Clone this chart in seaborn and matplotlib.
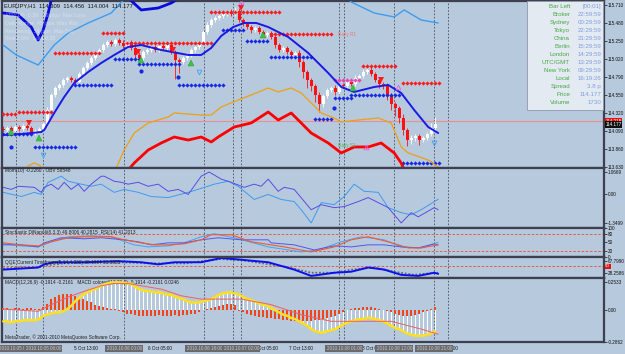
import matplotlib
matplotlib.use("Agg")
import matplotlib.pyplot as plt
from matplotlib.patches import Rectangle
import seaborn as sns
import numpy as np

W, H = 625, 354
BG = "#B6C9DD"
FRAME = "#3E4050"

# ---------- EURJPY H1, one value per bar ----------
close = [
    114.105, 114.131, 114.092, 114.143, 114.118, 114.156, 114.131, 114.066, 114.092, 114.118,
    114.182, 114.362, 114.554, 114.644, 114.683, 114.747, 114.773, 114.747, 114.721, 114.824,
    114.901, 114.965, 115.029, 115.081, 115.132, 115.196, 115.235, 115.209, 115.260, 115.222,
    115.183, 115.235, 115.158, 115.068, 115.029, 115.106, 115.132, 115.171, 115.132, 115.183,
    115.158, 115.196, 115.106, 115.004, 114.978, 115.029, 115.068, 115.132, 115.171, 115.209,
    115.363, 115.453, 115.517, 115.543, 115.569, 115.594, 115.620, 115.594, 115.633, 115.517,
    115.466, 115.427, 115.389, 115.414, 115.363, 115.325, 115.350, 115.299, 115.196, 115.132,
    115.158, 115.106, 115.068, 115.094, 114.978, 114.850, 114.747, 114.670, 114.554, 114.439,
    114.541, 114.618, 114.644, 114.593, 114.683, 114.670, 114.721, 114.696, 114.773, 114.798,
    114.850, 114.875, 114.824, 114.747, 114.696, 114.670, 114.554, 114.439, 114.387, 114.259,
    114.105, 113.976, 114.002, 114.028, 113.976, 114.002, 114.054, 114.131, 114.177]
first_open = 114.120
wick_up = [3, 2, 3, 2, 3, 2, 2, 3, 2, 3, 3, 4, 3, 3, 2, 3, 2, 3, 3, 2,
           3, 2, 3, 3, 2, 3, 2, 3, 2, 3, 4, 3, 2, 3, 4, 3, 2, 3, 2, 3,
           2, 3, 4, 2, 3, 2, 3, 2, 3, 3, 3, 4, 3, 2, 3, 2, 3, 4, 5, 4,
           3, 2, 3, 2, 3, 3, 2, 3, 4, 3, 2, 3, 3, 2, 4, 3, 2, 3, 2, 4,
           3, 3, 2, 4, 3, 2, 3, 3, 4, 3, 4, 3, 5, 3, 2, 3, 4, 3, 2, 3,
           5, 3, 4, 3, 3, 2, 3, 6, 9]
wick_dn = [3, 2, 4, 2, 3, 2, 3, 3, 2, 3, 2, 3, 2, 3, 3, 2, 3, 2, 3, 2,
           2, 3, 2, 3, 2, 2, 3, 2, 3, 2, 3, 2, 3, 4, 3, 2, 3, 2, 3, 2,
           3, 2, 3, 24, 14, 3, 2, 3, 2, 3, 2, 3, 2, 3, 2, 3, 2, 2, 3, 3,
           2, 3, 4, 3, 2, 3, 3, 2, 4, 3, 2, 3, 4, 3, 6, 8, 10, 7, 9, 10,
           4, 3, 3, 4, 2, 3, 2, 3, 2, 3, 2, 3, 2, 3, 5, 4, 6, 8, 10, 7,
           6, 8, 5, 4, 6, 3, 3, 2, 2]

# ---------- price-chart indicators (bar position, price) ----------
ma_x = [0, 4.5, 9.5, 10.25, 12.75, 15.25, 17.75, 21.25, 24.5, 27.75, 31.25, 34.5, 39.5, 46.25,
        49.5, 52, 54.5, 57.5, 60.25, 63.25, 66.25, 71.25, 76.25, 81.25, 84.5, 87.75, 92.75,
        96.25, 99.5, 102.75, 106.25, 108.75]
ma_y = [114.041, 114.053, 114.079, 114.105, 114.323, 114.529, 114.708, 114.850, 114.965,
        115.068, 115.171, 115.196, 115.132, 115.068, 115.068, 115.158, 115.312, 115.427,
        115.479, 115.479, 115.427, 115.299, 115.094, 114.837, 114.657, 114.593, 114.657,
        114.683, 114.580, 114.362, 114.143, 114.066]
up1_x = [0, 3.75, 7, 8.75, 10, 11.25, 12.5, 22, 31.25, 34.5, 38.75, 42, 45.25, 49.5]
up1_y = [115.607, 115.581, 115.427, 115.260, 115.389, 115.607, 115.877, 116.159, 115.800,
         115.646, 115.671, 115.735, 115.838, 116.159]
up2_x = [0, 3.25, 8.75, 10.75, 12.75, 16.25, 21.25, 27, 30.75, 49.5, 74.5, 85.75, 87, 92.75,
         97.75, 100.25, 104.5, 108.75]
up2_y = [115.196, 115.068, 114.939, 115.068, 115.196, 115.350, 115.479, 115.607, 115.813,
         116.095, 116.031, 115.813, 115.748, 115.607, 115.556, 115.646, 115.517, 115.479]
orng_x = [4.5, 6.25, 7.75, 9, 10.75, 18.25, 26.5, 28.25, 30.25, 32.75, 36.25, 41.25, 42.75,
          49.5, 52, 54.5, 58.75, 62, 66.25, 68.75, 72, 74.5, 77, 79.5, 82.75, 84.5, 88.75,
          93.75, 97, 99.5, 101.25, 106.25, 108.75]
orng_y = [113.566, 113.643, 113.681, 113.655, 113.566, 113.399, 113.527, 113.617, 113.848,
          114.066, 114.195, 114.272, 114.323, 114.297, 114.297, 114.400, 114.490, 114.554,
          114.644, 114.593, 114.644, 114.580, 114.452, 114.323, 114.259, 114.208, 114.233,
          114.259, 114.195, 113.887, 113.810, 113.720, 113.630]
low_x = [29.5, 31.25, 32.75, 36.25, 39.5, 42.75, 46.25, 49.5, 52, 53.75, 57.75, 62, 66.25,
         68.75, 72, 74.5, 77, 81.25, 84.5, 87.75, 91.25, 94.5, 97.75, 99.5, 100.75]
low_y = [113.463, 113.591, 113.681, 113.848, 113.938, 114.015, 113.976, 114.015, 113.951,
         114.015, 114.143, 114.195, 114.336, 114.233, 114.323, 114.195, 114.066, 113.938,
         113.810, 113.887, 113.887, 113.938, 113.810, 113.681, 113.527]

# level rows (first bar, last bar, price)
red_rows = [(0, 3, 114.310), (4, 12, 114.336), (13, 24, 115.093), (25, 30, 115.350),
            (31, 52, 115.222), (52, 69, 115.620), (67, 82, 115.337), (90, 98, 114.927),
            (100, 109, 114.708)]
pink_rows = [(83, 89, 114.747)]
blue_rows = [(0, 7, 114.059), (8, 18, 113.887), (18, 27, 114.683), (28, 34, 115.016),
             (34, 44, 114.952), (44, 55, 114.683), (55, 60, 115.389), (61, 66, 115.248),
             (67, 77, 115.042), (78, 82, 114.246), (83, 87, 114.516), (87, 99, 114.554),
             (100, 109, 113.681)]
blue_dots = [(2, 113.887), (34.5, 114.862), (43.75, 114.785), (82.75, 114.387)]
green_up = [(2, 114.079), (9, 114.002), (34.5, 115.004), (47, 114.965), (65, 115.325),
            (87.5, 114.644)]
red_down = [(6.5, 114.195), (33.75, 115.106), (42.5, 115.132), (59.5, 115.671),
            (94.5, 114.747)]
cyan_marks = [(10, 113.784), (49, 114.850), (107.75, 113.938)]
pink_marks = [(59.5, 115.748), (90.75, 113.887), (98.75, 114.657)]
ask_price = 114.215
bid_price = 114.177

price_ticks = [115.710, 115.480, 115.250, 115.020, 114.790, 114.550, 114.320, 114.090,
               113.860, 113.630]

# ---------- sub windows ----------
mom_x = [0, 2, 3.75, 7.75, 9.5, 10.25, 12, 13.75, 15.25, 17, 18.75, 20.25, 22, 24.5, 25.25,
         27.75, 29.5, 31.25, 33.75, 36.25, 38.75, 41.25, 43.75, 46.25, 49.5, 51.5, 54.5, 57,
         60.25, 62.75, 64.5, 66.25, 68.75, 70.25, 72.75, 77, 79.5, 82.75, 85.25, 88.75, 91.25,
         93.75, 96.25, 99.5, 102, 103.75, 107.75, 108.75]
mom_a = [0.34, 0.24, 0.39, 0.34, 0.10, 0.34, 0.49, 0.24, 0.58, 0.24, 0.49, 0.15, 0.49, 0.87,
         0.87, 0.63, 0.58, 0.49, 0.58, 0.39, 0.49, 0.15, 0.24, 0.00, 0.87, 1.07, 0.73, 0.58,
         0.34, 0.49, 0.39, 0.73, 0.15, 0.34, 0.24, -0.73, -0.49, -0.63, -0.58, -0.34, -0.15,
         -0.39, -0.63, -1.36, -0.87, -1.07, -0.63, -0.73]
obv_x = [0, 4.5, 7.75, 9.5, 11.25, 14.5, 16.25, 19.5, 22, 24.5, 27.75, 30.25, 33.75, 37,
         41.25, 46.25, 49.5, 52.75, 56.25, 58.75, 62.75, 66.25, 69.5, 72.75, 74.5, 77, 79.5,
         82.75, 85.25, 87.75, 90.25, 93.75, 96.25, 99.5, 102, 104.5, 108.75]
obv_b = [0.10, -0.10, 0.10, 0.00, 0.58, 0.87, 0.63, 0.49, 0.39, 0.49, 0.10, 0.24, 0.10,
         -0.10, -0.15, 0.10, 0.29, 0.49, 0.63, 0.39, -0.24, 0.00, -0.24, -0.34, -0.73, -1.36,
         -0.39, -0.49, -0.10, 0.49, 0.15, 0.10, -0.63, -0.87, -0.97, -0.73, -0.23]

rsi_x = [0, 4.5, 8.75, 12, 16.25, 20.25, 27, 30.25, 34.5, 37.75, 41.25, 45.25, 49.5, 52, 57,
         62, 70.25, 77, 82.75, 87, 91.25, 96.25, 101.25, 104.5, 108.75]
rsi_v = [48.2, 41.2, 37.6, 51.8, 65.9, 69.4, 69.4, 58.8, 48.2, 41.2, 41.2, 44.7, 58.8, 76.5,
         76.5, 51.8, 34.1, 16.5, 34.1, 58.8, 69.4, 51.8, 30.6, 30.6, 41.2]
sig_x = [0, 4.5, 8.75, 10.25, 14.5, 20.25, 24.5, 30.25, 33.75, 37, 41.25, 45.25, 49.5, 53.75,
         59.5, 66.25, 67, 72.75, 77.75, 82.75, 87, 91.25, 95.25, 99.5, 103.75, 107.75, 108.75]
sig_v = [41.2, 41.2, 34.1, 48.2, 65.9, 62.4, 65.9, 58.8, 51.8, 41.2, 48.2, 48.2, 58.8, 65.9,
         58.8, 58.8, 48.2, 41.2, 23.5, 37.6, 34.1, 41.2, 41.2, 34.1, 30.6, 44.7, 40.3]
sto_x = [0, 4.5, 8.75, 12, 16.25, 22, 27, 31.25, 32.75, 36.25, 41.25, 45.25, 49.5, 52.75,
         57.75, 66.25, 74.5, 78.75, 84.5, 89.5, 95.25, 99.5, 104.5, 108.75]
sto_v = [44.7, 37.6, 34.1, 51.8, 69.4, 72.9, 69.4, 48.2, 41.2, 34.1, 37.6, 48.2, 69.4, 80.0,
         65.9, 34.1, 16.5, 23.5, 51.8, 69.4, 58.8, 34.1, 30.6, 49.8]

qqe_x = [0, 4.5, 8.75, 10.25, 12.75, 20.25, 28.75, 34.5, 38.75, 42.75, 49.5, 54.5, 57.75,
         66.25, 72.75, 77, 82.75, 87, 91.25, 95.25, 99.5, 103.75, 107.75, 108.75]
qqe_a = [39.0, 42.6, 46.2, 57.0, 64.2, 64.2, 67.8, 64.2, 57.0, 64.2, 64.2, 78.6, 75.0, 64.2,
         39.0, 17.4, 28.2, 31.8, 46.2, 39.0, 21.0, 17.4, 28.2, 24.6]
qqe_bx = [0, 4.5, 8.75, 10.75, 14.5, 22, 29.5, 35.75, 40.75, 45.75, 49.5, 54.5, 59.5, 70.25,
          77, 82.75, 87, 92.75, 97.75, 102.75, 107.75, 108.75]
qqe_b = [42.6, 46.2, 46.2, 53.4, 60.6, 64.2, 64.2, 60.6, 60.6, 60.6, 67.8, 75.0, 71.4, 49.8,
         28.2, 28.2, 39.0, 46.2, 31.8, 21.0, 28.2, 28.2]

macd_main = [-0.10, -0.10, -0.11, -0.10, -0.10, -0.09, -0.09, -0.09, -0.09, -0.08,
             -0.05, -0.04, -0.03, -0.02, -0.02, -0.01, 0.01, 0.04, 0.08, 0.11,
             0.14, 0.16, 0.18, 0.19, 0.21, 0.23, 0.24, 0.25, 0.25, 0.25,
             0.25, 0.24, 0.24, 0.21, 0.19, 0.18, 0.17, 0.17, 0.16, 0.16,
             0.15, 0.14, 0.14, 0.12, 0.11, 0.10, 0.08, 0.07, 0.07, 0.07,
             0.08, 0.09, 0.10, 0.12, 0.14, 0.15, 0.16, 0.16, 0.15, 0.14,
             0.12, 0.10, 0.09, 0.08, 0.06, 0.05, 0.04, 0.02, 0.00, -0.02,
             -0.04, -0.05, -0.07, -0.08, -0.10, -0.12, -0.14, -0.17, -0.19, -0.20,
             -0.20, -0.19, -0.18, -0.17, -0.15, -0.13, -0.11, -0.10, -0.09, -0.08,
             -0.08, -0.07, -0.07, -0.08, -0.09, -0.10, -0.12, -0.14, -0.16, -0.17,
             -0.19, -0.21, -0.22, -0.23, -0.23, -0.23, -0.22, -0.21, -0.19]
macd_hist = [0.02, 0.02, 0.01, 0.02, 0.02, 0.01, 0.02, 0.02, 0.01, 0.01,
             0.03, 0.06, 0.10, 0.12, 0.14, 0.15, 0.15, 0.15, 0.13, 0.12,
             0.10, 0.08, 0.07, 0.05, 0.04, 0.03, 0.02, 0.01, 0.01, -0.01,
             -0.02, -0.03, -0.03, -0.04, -0.05, -0.05, -0.05, -0.05, -0.05, -0.04,
             -0.05, -0.05, -0.05, -0.04, -0.05, -0.04, -0.04, -0.03, -0.03, -0.02,
             0.00, 0.01, 0.02, 0.03, 0.04, 0.05, 0.06, 0.06, 0.05, -0.01,
             -0.02, -0.03, -0.04, -0.05, -0.06, -0.06, -0.07, -0.07, -0.08, -0.08,
             -0.09, -0.09, -0.10, -0.10, -0.10, -0.10, -0.10, -0.10, -0.09, -0.09,
             -0.08, -0.07, -0.06, -0.05, -0.03, -0.02, 0.00, 0.01, 0.02, 0.02,
             0.03, 0.03, 0.03, 0.02, 0.01, 0.00, -0.01, -0.02, -0.03, -0.04,
             -0.05, -0.05, -0.05, -0.04, -0.03, -0.02, -0.01, 0.01, 0.025]
msig_x = [0, 4.5, 8.75, 12, 16.25, 20.25, 24.5, 27.75, 31.25, 34.5, 39.5, 44.5, 49.5, 53.25,
          59.5, 67, 74.5, 82, 89.5, 97, 104.5, 108.75]
msig_v = [0.01, 0.00, -0.01, 0.05, 0.12, 0.17, 0.22, 0.24, 0.24, 0.22, 0.19, 0.13, 0.10, 0.10,
          0.10, 0.05, -0.04, -0.10, -0.10, -0.10, -0.17, -0.216]

# vertical line objects and the time scale
vlines_at = [3.25, 10, 30.25, 50.25, 57.5, 59.5, 84, 85.25, 97.75, 107.75, 111.25]
vlabels = [(3.25, "2010.10.05 00:00"), (10, "2010.10.05 06:00"), (30.25, "2010.10.06 00:00"),
           (50.25, "2010.10.06 18:00"), (59.5, "2010.10.07 02:00"), (85.25, "2010.10.08 01:00"),
           (97.75, "2010.10.08 12:00"), (107.75, "2010.10.08 21:00")]
time_pos = [17.75, 36.25, 62.75, 71.5, 89.75, 107.75]
time_txt = ["5 Oct 13:00", "6 Oct 05:00", "7 Oct 05:00", "7 Oct 13:00", "8 Oct 05:00",
            "8 Oct 21:00"]

info_names = ["Bar Left", "Broker", "Sydney", "Tokyo", "China", "Berlin", "London",
              "UTC/GMT", "New York", "Local", "Spread", "Price", "Volume"]
info_vals = ["[00:01]", "22:59:59", "00:29:59", "22:29:59", "21:29:59", "15:29:59",
             "14:29:59", "13:29:59", "09:29:59", "16:19:26", "3.8 p", "114.177", "1730"]

# ---------------------------------------------------------------
sns.set_theme(style="white")
plt.rcParams["font.family"] = ["Liberation Sans", "DejaVu Sans"]

fig = plt.figure(figsize=(W / 100, H / 100), dpi=100, facecolor=BG)


def rect(x0, y0, x1, y1):
    return [x0 / W, 1 - y1 / H, (x1 - x0) / W, (y1 - y0) / H]


X0 = -0.3
X1 = X0 + 602 / 4


def panel(r, ylim, ticks, labels):
    ax = fig.add_axes(rect(*r))
    ax.set_facecolor(BG)
    ax.set_xlim(X0, X1)
    ax.set_ylim(*ylim)
    for s in ax.spines.values():
        s.set_color(FRAME)
        s.set_linewidth(1.6)
    ax.set_xticks([])
    ax.yaxis.tick_right()
    ax.set_yticks(ticks)
    ax.set_yticklabels(labels)
    ax.tick_params(axis="y", length=2, width=0.5, pad=1, labelsize=3.3, colors="#101010",
                   right=True, left=False)
    for v in vlines_at:
        ax.axvline(v, color="#4A4C5C", lw=0.6, ls=(0, (2, 2)), zorder=1)
    return ax


ax = panel((2, 1, 604, 168), (113.617, 115.761), price_ticks, [f"{t:.3f}" for t in price_ticks])
ax_mom = panel((2, 168, 604, 228), (-1.602, 1.262), [1.0669, 0.0, -1.3499],
               ["1.0669", "0.00", "-1.3499"])
ax_sto = panel((2, 228, 604, 257), (-1.2, 97.6), [100, 80, 50, 20, 0],
               ["100", "80", "50", "20", "0"])
ax_qqe = panel((2, 257, 604, 278), (10.2, 82.2), [67.799, 28.2586], ["67.7990", "28.2586"])
ax_macd = panel((2, 278, 604, 342), (-0.281, 0.290), [0.2533, 0.0, -0.2862],
                ["0.2533", "0.00", "-0.2862"])

# ---- candles ----
bars = np.arange(len(close))
c = np.array(close)
o = np.array([first_open] + close[:-1])
hi = np.maximum(o, c) + np.array(wick_up) * 0.01
lo = np.minimum(o, c) - np.array(wick_dn) * 0.01
bull = c >= o
for mask, col in ((bull, "white"), (~bull, "#FF1010")):
    ax.vlines(bars[mask], lo[mask], hi[mask], color=col, lw=0.6, zorder=2)
    ax.bar(bars[mask], np.maximum(np.abs(c - o), 0.006)[mask],
           bottom=np.minimum(o, c)[mask], width=0.7, color=col, lw=0, zorder=2)

ax.axhline(ask_price, color="#F08C8C", lw=0.8, zorder=1.5)

# ---- level rows and signals ----
for rows, col in ((red_rows, "#FF1A1A"), (pink_rows, "#F040B0"), (blue_rows, "#1428E6")):
    for a, b, p in rows:
        xs = np.arange(a, b + 1)
        ax.plot(xs, [p] * len(xs), ls="none", marker="D", ms=1.9, mfc=col, mec=col, mew=0.2,
                zorder=3)
ax.plot([d[0] for d in blue_dots], [d[1] for d in blue_dots], ls="none", marker="o", ms=2,
        color="#1428E6", zorder=3)
ax.plot([d[0] for d in green_up], [d[1] for d in green_up], "^", ms=5, color="#3CC43C",
        mec="#2A9A2A", mew=0.3, zorder=5)
ax.plot([d[0] for d in red_down], [d[1] for d in red_down], "v", ms=5, color="#FF1A1A",
        mew=0, zorder=5)
ax.plot([d[0] for d in cyan_marks], [d[1] for d in cyan_marks], "v", ms=3.4, mfc="none",
        mec="#3FA2F2", mew=0.6, zorder=5)
ax.plot([d[0] for d in pink_marks], [d[1] for d in pink_marks], "^", ms=3.4, mfc="none",
        mec="#E860D8", mew=0.6, zorder=5)

# ---- lines ----
sns.lineplot(x=up2_x, y=up2_y, ax=ax, color="#3C9CF0", lw=1.0, sort=False, zorder=4)
sns.lineplot(x=up1_x, y=up1_y, ax=ax, color="#0A0ADC", lw=2.0, sort=False, zorder=4)
sns.lineplot(x=orng_x, y=orng_y, ax=ax, color="#F0A010", lw=0.9, sort=False, zorder=4)
sns.lineplot(x=low_x, y=low_y, ax=ax, color="#FF0000", lw=2.0, sort=False, zorder=4)
sns.lineplot(x=ma_x, y=ma_y, ax=ax, color="#1A1AE6", lw=1.4, sort=False, zorder=4)

ax.text(83.75, 115.337, "Daily R1", fontsize=3.4, color="#F07878", va="center", zorder=6)
ax.text(83.75, 113.900, "Daily S1", fontsize=3.4, color="#4CB84C", va="center", zorder=6)

# price labels on the scale
ax.text(1.002, ask_price, "114.215", transform=ax.get_yaxis_transform(), fontsize=3.3,
        color="white", va="center", ha="left", clip_on=False, zorder=7,
        bbox=dict(boxstyle="square,pad=0.15", fc="#E81010", ec="none"))
ax.text(1.002, bid_price, "114.177", transform=ax.get_yaxis_transform(), fontsize=3.3,
        color="white", va="center", ha="left", clip_on=False, zorder=8,
        bbox=dict(boxstyle="square,pad=0.15", fc="#101010", ec="none"))

fig.text(4 / W, 1 - 6 / H, "EURJPY,H1  114.309  114.456  114.004  114.177", fontsize=4.2,
         color="#1A1A1A", va="center")
faint = ["ATR(14)  0.39   39 pips  Max Loss", "Daily Range  45 pips  Max Win",
         "Remaining  54 pips  Max Day", "Risk 2.0%   Lots 0.35"]
for k, t in enumerate(faint):
    fig.text(5 / W, 1 - (15 + 8 * k) / H, t, fontsize=3.8, color="white", alpha=0.45,
             va="center")

# ---- info panel ----
fig.patches.append(Rectangle((527 / W, 1 - 110 / H), 76 / W, 109 / H, transform=fig.transFigure,
                             fc="#E4EAF2", ec="#8C9AAA", lw=0.6))
for k, (n, v) in enumerate(zip(info_names, info_vals)):
    yy = 1 - (6.5 + 8.0 * k) / H
    fig.text(570 / W, yy, n, fontsize=4.4, color="#44A844", ha="right", va="center")
    fig.text(601 / W, yy, v, fontsize=4.4, color="#7E9EE0", ha="right", va="center")

# ---- momentum / OBV ----
sns.lineplot(x=obv_x, y=obv_b, ax=ax_mom, color="#3C9CF0", lw=0.7, sort=False)
sns.lineplot(x=mom_x, y=mom_a, ax=ax_mom, color="#5A4CE4", lw=0.7, sort=False)
ax_mom.text(0.5, 1.12, "Mom(10) -0.2260   OBV 58548", fontsize=3.4, color="#202020",
            va="center")

# ---- stochastic / RSI ----
for lvl in (80, 20):
    ax_sto.axhline(lvl, color="#F04A28", lw=0.6, ls=(0, (3, 2)))
sns.lineplot(x=sto_x, y=sto_v, ax=ax_sto, color="#44A4F0", lw=0.7, sort=False)
sns.lineplot(x=sig_x, y=sig_v, ax=ax_sto, color="#5A54E8", lw=0.7, sort=False)
sns.lineplot(x=rsi_x, y=rsi_v, ax=ax_sto, color="#F05A30", lw=0.8, sort=False)
ax_sto.text(0.5, 85, "Stochastic DiNapoli(8,3,3) 49.8006 40.2815  RSI(14) 41.2013",
            fontsize=3.4, color="#202020", va="center")

# ---- QQE ----
ax_qqe.axhline(50, color="#F04A28", lw=0.6, ls=(0, (3, 2)))
sns.lineplot(x=qqe_bx, y=qqe_b, ax=ax_qqe, color="#6A6A6A", lw=1.3, ls=(0, (1, 1)), sort=False)
sns.lineplot(x=qqe_x, y=qqe_a, ax=ax_qqe, color="#0A10F0", lw=1.4, sort=False)
ax_qqe.text(0.5, 62, "QQE Current Timeframe(5,14,4.236) 38.1904 31.8935", fontsize=3.4,
            color="#202020", va="center")
ax_qqe.text(1.002, 50, "50", transform=ax_qqe.get_yaxis_transform(), fontsize=3.2,
            color="white", va="center", clip_on=False,
            bbox=dict(boxstyle="square,pad=0.15", fc="#E81010", ec="none"))

# ---- MACD ----
ax_macd.bar(bars, macd_main, width=0.28, color="white", lw=0, zorder=2)
ax_macd.bar(bars, macd_hist, width=0.6, color="#F0461A", lw=0, zorder=3)
sns.lineplot(x=bars, y=macd_main, ax=ax_macd, color="#FFE01A", lw=1.8, sort=False, zorder=4)
sns.lineplot(x=msig_x, y=msig_v, ax=ax_macd, color="#F06060", lw=0.7, sort=False, zorder=5)
ax_macd.text(0.5, 0.252, "MACD(12,26,9) -0.1914 -0.2161   MACD colored(12,26,9) -0.1914 -0.2161 0.0246",
             fontsize=3.4, color="#202020", va="center")
ax_macd.text(0.5, -0.24, "MetaTrader, \u00a9 2001-2010 MetaQuotes Software Corp.", fontsize=3.4,
             color="#202020", va="center")

for a in (ax, ax_mom, ax_sto, ax_qqe, ax_macd):
    a.set_xlabel("")
    a.set_ylabel("")
    if a.get_legend():
        a.get_legend().remove()

# ---- time scale ----
ax_t = fig.add_axes(rect(2, 342, 604, 354))
ax_t.set_xlim(X0, X1)
ax_t.set_ylim(0, 1)
ax_t.axis("off")
for p, t in zip(time_pos, time_txt):
    ax_t.text(p, 0.45, t, fontsize=3.3, color="#101010", ha="left", va="center")
for p, t in vlabels:
    ax_t.text(p, 0.45, t, fontsize=3.3, color="#C8C8C8", ha="center", va="center",
              bbox=dict(boxstyle="square,pad=0.25", fc="#6A6A6E", ec="none"))

fig.savefig("out.png", dpi=100, facecolor=BG)
